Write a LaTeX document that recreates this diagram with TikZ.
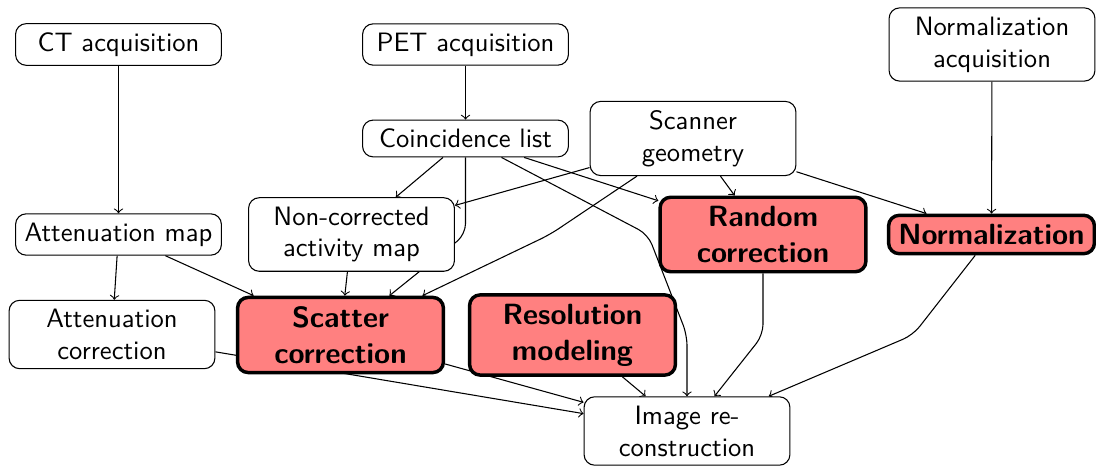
\documentclass[tikz,border=0pt]{standalone}
\usetikzlibrary{backgrounds}
\begin{document}
\begin{tikzpicture}[x=0.376pt,y=-0.376pt,
  box/.style={draw, rounded corners, fill=white, align=center, minimum width=77.4pt,
    font=\sffamily\fontsize{10}{12}\selectfont},
  hot/.style={box, fill=red!50, line width=1.3pt,
    font=\sffamily\bfseries\fontsize{11}{13.6}\selectfont},
  arr/.style={->, rounded corners}]
\useasboundingbox (0,0) rectangle (1096,466);
% row 1
\node[box] (ct) at (118.5,44.5) {CT acquisition};
\node[box] (pet) at (465.5,44.5) {PET acquisition};
\node[box] (normacq) at (992,44.5) {Normalization\\acquisition};
% row 2
\node[box] (coinc) at (465.5,138.5) {Coincidence list};
\node[box] (scanner) at (693,138.5) {Scanner\\geometry};
% row 3
\node[box] (attmap) at (118.5,234.5) {Attenuation map};
\node[box] (noncorr) at (351.5,234.5) {Non-corrected\\activity map};
\node[hot] (random) at (763,234.5) {Random\\correction};
\node[hot] (norm) at (991.5,234.5) {Normalization};
% row 4
\node[box] (attcorr) at (112,334.5) {Attenuation\\correction};
\node[hot] (scatter) at (340.5,335) {Scatter\\correction};
\node[hot] (res) at (572.5,335) {Resolution\\modeling};
% row 5
\node[box] (imgrec) at (687,431) {Image re-\\construction};
% waypoints
\coordinate (w1) at (465.5,234.5);
\coordinate (w2) at (648,234.5);
\coordinate (w3) at (687,335);
\coordinate (w4) at (550,234.5);
\coordinate (w5) at (763,335);
\coordinate (w6) at (913,335);
\begin{scope}[on background layer]
\draw[arr] (ct) -- (attmap);
\draw[arr] (pet) -- (coinc);
\draw[arr] (normacq) -- (norm);
\draw[arr] (attmap) -- (attcorr);
\draw[arr] (attmap) -- (scatter);
\draw[arr] (coinc) -- (noncorr);
\draw[arr] (coinc) -- (w1) -- (scatter);
\draw[arr] (coinc) -- (random);
\draw[arr] (coinc) -- (w2) -- (w3) -- (imgrec);
\draw[arr] (scanner) -- (noncorr);
\draw[arr] (scanner) -- (random);
\draw[arr] (scanner) -- (norm);
\draw[arr] (scanner) -- (w4) -- (scatter);
\draw[arr] (noncorr) -- (scatter);
\draw[arr] (random) -- (w5) -- (imgrec);
\draw[arr] (norm) -- (w6) -- (imgrec);
\draw[arr] (attcorr) -- (imgrec);
\draw[arr] (scatter) -- (imgrec);
\draw[arr] (res) -- (imgrec);
\end{scope}
\end{tikzpicture}
\end{document}
